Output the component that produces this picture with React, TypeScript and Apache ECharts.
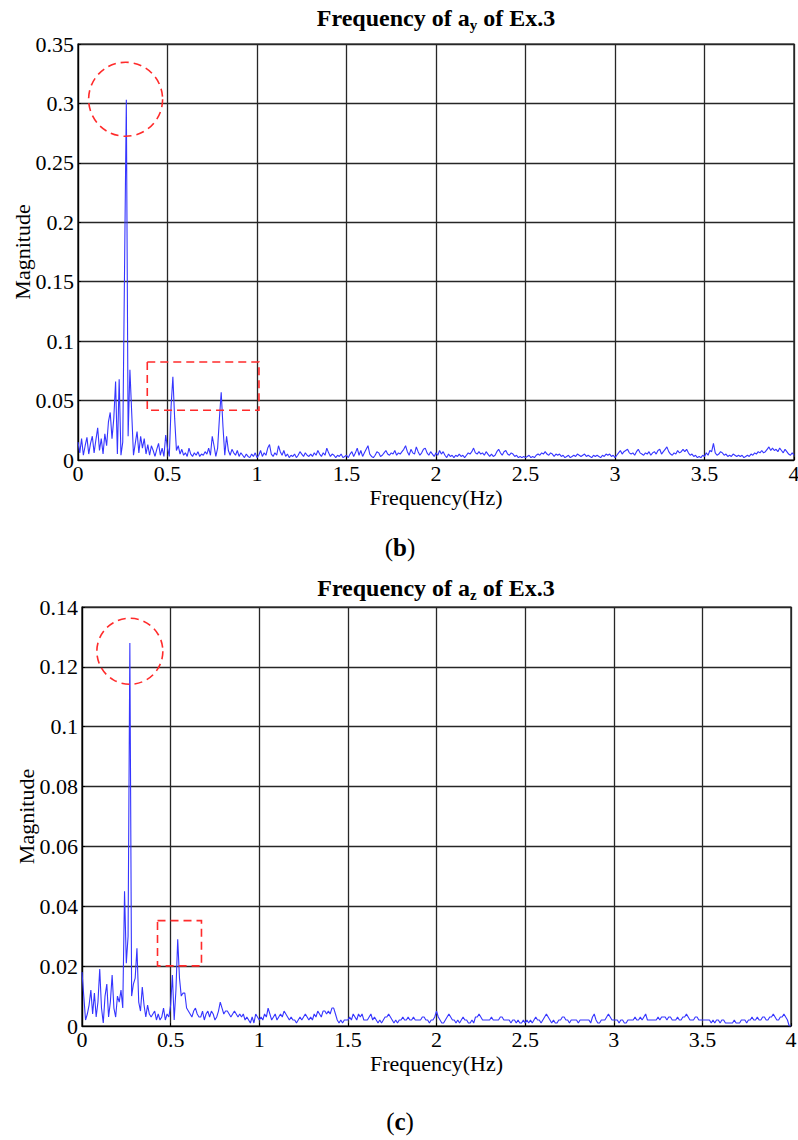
import React, { useEffect, useRef } from "react";
import * as echarts from "echarts";

// Frequency grid: 0.00 .. 4.00 Hz, step 0.01 Hz (index i -> i * 0.01 Hz)
const FREQ_STEP = 0.01;
const X_TICKS = { min: 0, max: 4, interval: 0.5 };
const Y_AXIS_AY = { min: 0, max: 0.35, interval: 0.05 };
const Y_AXIS_AZ = { min: 0, max: 0.14, interval: 0.02 };

const TITLE_AY = ["Frequency of a", "y", " of Ex.3"];
const TITLE_AZ = ["Frequency of a", "z", " of Ex.3"];
const X_NAME = "Frequency(Hz)";
const Y_NAME = "Magnitude";
const CAPTIONS = ["b", "c"];

// Magnitude of a_y spectrum (chart b)
const magAy = [
  0.015, 0.006, 0.018, 0.004, 0.012, 0.019, 0.005, 0.014, 0.020, 0.006,
  0.017, 0.027, 0.008, 0.018, 0.005, 0.022, 0.012, 0.032, 0.040, 0.018,
  0.035, 0.066, 0.005, 0.068, 0.004, 0.015, 0.160, 0.303, 0.020, 0.076,
  0.040, 0.004, 0.014, 0.024, 0.006, 0.020, 0.010, 0.018, 0.005, 0.013,
  0.004, 0.012, 0.008, 0.003, 0.009, 0.014, 0.004, 0.010, 0.003, 0.021,
  0.010, 0.003, 0.045, 0.070, 0.035, 0.008, 0.012, 0.005, 0.009, 0.004,
  0.006, 0.003, 0.010, 0.005, 0.003, 0.006, 0.004, 0.007, 0.003, 0.005,
  0.004, 0.007, 0.005, 0.010, 0.004, 0.020, 0.012, 0.003, 0.010, 0.035,
  0.057, 0.028, 0.004, 0.020, 0.008, 0.004, 0.009, 0.006, 0.004, 0.008,
  0.003, 0.006, 0.004, 0.002, 0.005, 0.003, 0.002, 0.005, 0.003, 0.006,
  0.002, 0.004, 0.008, 0.003, 0.006, 0.004, 0.010, 0.013, 0.005, 0.003,
  0.006, 0.004, 0.012, 0.007, 0.004, 0.008, 0.003, 0.005, 0.002, 0.004,
  0.003, 0.005, 0.002, 0.004, 0.007, 0.005, 0.003, 0.006, 0.004, 0.003,
  0.005, 0.003, 0.006, 0.004, 0.008, 0.005, 0.003, 0.006, 0.004, 0.010,
  0.006, 0.003, 0.005, 0.004, 0.002, 0.004, 0.003, 0.005, 0.002, 0.003,
  0.004, 0.002, 0.005, 0.007, 0.003, 0.006, 0.010, 0.004, 0.008, 0.003,
  0.006, 0.009, 0.012, 0.005, 0.003, 0.002, 0.004, 0.007, 0.006, 0.003,
  0.004, 0.006, 0.008, 0.005, 0.004, 0.006, 0.005, 0.008, 0.004, 0.006,
  0.005, 0.007, 0.009, 0.012, 0.007, 0.004, 0.009, 0.006, 0.005, 0.011,
  0.007, 0.004, 0.006, 0.009, 0.010, 0.006, 0.004, 0.007, 0.005, 0.003,
  0.006, 0.004, 0.008, 0.005, 0.007, 0.004, 0.002, 0.005, 0.003, 0.004,
  0.002, 0.004, 0.003, 0.005, 0.003, 0.004, 0.002, 0.004, 0.006, 0.005,
  0.007, 0.010, 0.006, 0.005, 0.007, 0.005, 0.006, 0.004, 0.007, 0.005,
  0.003, 0.005, 0.003, 0.004, 0.007, 0.009, 0.006, 0.004, 0.007, 0.008,
  0.005, 0.004, 0.006, 0.005, 0.003, 0.004, 0.002, 0.003, 0.002, 0.003,
  0.002, 0.003, 0.004, 0.002, 0.003, 0.002, 0.004, 0.005, 0.004, 0.006,
  0.005, 0.007, 0.005, 0.004, 0.006, 0.005, 0.003, 0.005, 0.004, 0.005,
  0.003, 0.004, 0.002, 0.003, 0.004, 0.002, 0.003, 0.004, 0.003, 0.005,
  0.004, 0.003, 0.004, 0.005, 0.003, 0.004, 0.003, 0.002, 0.004, 0.003,
  0.004, 0.003, 0.002, 0.004, 0.003, 0.005, 0.004, 0.005, 0.003, 0.004,
  0.002, 0.004, 0.006, 0.008, 0.005, 0.007, 0.008, 0.009, 0.006, 0.005,
  0.006, 0.004, 0.007, 0.009, 0.006, 0.005, 0.004, 0.006, 0.005, 0.007,
  0.004, 0.006, 0.007, 0.005, 0.008, 0.009, 0.005, 0.007, 0.009, 0.011,
  0.007, 0.005, 0.004, 0.006, 0.005, 0.008, 0.006, 0.007, 0.009, 0.007,
  0.009, 0.006, 0.004, 0.005, 0.003, 0.004, 0.002, 0.003, 0.002, 0.004,
  0.003, 0.006, 0.004, 0.008, 0.007, 0.014, 0.006, 0.004, 0.005, 0.007,
  0.006, 0.004, 0.005, 0.003, 0.004, 0.003, 0.005, 0.004, 0.003, 0.004,
  0.003, 0.004, 0.002, 0.003, 0.004, 0.003, 0.005, 0.004, 0.006, 0.005,
  0.007, 0.006, 0.008, 0.006, 0.007, 0.009, 0.011, 0.008, 0.010, 0.008,
  0.009, 0.007, 0.010, 0.008, 0.006, 0.009, 0.007, 0.005, 0.004, 0.006,
  0.004,
];

// Magnitude of a_z spectrum (chart c)
const magAz = [
  0.018, 0.010, 0.002, 0.004, 0.007, 0.012, 0.004, 0.011, 0.003, 0.008,
  0.019, 0.006, 0.001, 0.010, 0.014, 0.003, 0.008, 0.017, 0.006, 0.003,
  0.010, 0.008, 0.012, 0.006, 0.045, 0.021, 0.030, 0.128, 0.010, 0.014,
  0.016, 0.026, 0.008, 0.005, 0.013, 0.007, 0.003, 0.007, 0.004, 0.003,
  0.004, 0.005, 0.002, 0.004, 0.002, 0.003, 0.006, 0.002, 0.004, 0.003,
  0.007, 0.017, 0.002, 0.012, 0.029, 0.016, 0.010, 0.011, 0.011, 0.006,
  0.005, 0.004, 0.003, 0.005, 0.006, 0.004, 0.003, 0.003, 0.005, 0.002,
  0.004, 0.005, 0.003, 0.005, 0.004, 0.002, 0.003, 0.005, 0.008, 0.006,
  0.004, 0.005, 0.005, 0.004, 0.003, 0.004, 0.005, 0.004, 0.003, 0.004,
  0.003, 0.004, 0.002, 0.003, 0.002, 0.001, 0.003, 0.001, 0.004, 0.003,
  0.002, 0.003, 0.002, 0.004, 0.003, 0.006, 0.004, 0.002, 0.003, 0.004,
  0.002, 0.003, 0.004, 0.003, 0.005, 0.004, 0.003, 0.002, 0.003, 0.002,
  0.002, 0.001, 0.002, 0.003, 0.002, 0.003, 0.004, 0.003, 0.002, 0.003,
  0.002, 0.004, 0.003, 0.005, 0.004, 0.003, 0.005, 0.005, 0.004, 0.005,
  0.004, 0.006, 0.006, 0.004, 0.002, 0.001, 0.002, 0.001, 0.002, 0.002,
  0.002, 0.003, 0.002, 0.004, 0.003, 0.002, 0.004, 0.003, 0.004, 0.002,
  0.002, 0.002, 0.003, 0.004, 0.002, 0.003, 0.002, 0.001, 0.002, 0.001,
  0.002, 0.003, 0.003, 0.004, 0.003, 0.002, 0.001, 0.002, 0.001, 0.002,
  0.002, 0.003, 0.002, 0.002, 0.003, 0.002, 0.002, 0.003, 0.002, 0.002,
  0.002, 0.002, 0.003, 0.003, 0.002, 0.002, 0.001, 0.002, 0.002, 0.003,
  0.005, 0.003, 0.002, 0.001, 0.001, 0.002, 0.003, 0.004, 0.003, 0.002,
  0.002, 0.001, 0.002, 0.001, 0.002, 0.003, 0.002, 0.002, 0.001, 0.001,
  0.002, 0.001, 0.003, 0.003, 0.004, 0.003, 0.002, 0.002, 0.002, 0.002,
  0.002, 0.003, 0.002, 0.002, 0.002, 0.002, 0.003, 0.003, 0.002, 0.002,
  0.002, 0.002, 0.001, 0.002, 0.002, 0.001, 0.002, 0.001, 0.001, 0.002,
  0.001, 0.002, 0.001, 0.002, 0.001, 0.002, 0.003, 0.002, 0.002, 0.001,
  0.002, 0.003, 0.004, 0.003, 0.002, 0.001, 0.002, 0.001, 0.001, 0.002,
  0.002, 0.003, 0.003, 0.002, 0.002, 0.001, 0.002, 0.002, 0.002, 0.002,
  0.001, 0.002, 0.002, 0.002, 0.002, 0.002, 0.002, 0.001, 0.003, 0.004,
  0.002, 0.001, 0.001, 0.002, 0.002, 0.002, 0.003, 0.004, 0.003, 0.002,
  0.002, 0.002, 0.002, 0.001, 0.002, 0.002, 0.001, 0.001, 0.002, 0.002,
  0.002, 0.002, 0.003, 0.002, 0.002, 0.003, 0.002, 0.003, 0.004, 0.002,
  0.002, 0.002, 0.002, 0.002, 0.002, 0.003, 0.002, 0.003, 0.003, 0.003,
  0.002, 0.003, 0.003, 0.002, 0.002, 0.002, 0.003, 0.002, 0.002, 0.003,
  0.003, 0.004, 0.003, 0.002, 0.002, 0.002, 0.003, 0.003, 0.002, 0.002,
  0.002, 0.002, 0.002, 0.002, 0.002, 0.001, 0.002, 0.001, 0.002, 0.002,
  0.001, 0.002, 0.002, 0.001, 0.001, 0.001, 0.001, 0.001, 0.002, 0.001,
  0.001, 0.001, 0.002, 0.002, 0.002, 0.001, 0.002, 0.002, 0.003, 0.002,
  0.002, 0.003, 0.002, 0.002, 0.003, 0.003, 0.002, 0.002, 0.003, 0.003,
  0.004, 0.003, 0.002, 0.002, 0.003, 0.003, 0.004, 0.003, 0.002, 0.000,
  0.000,
];

// Red dashed annotations, in data coordinates
const circleAy = { center: [0.266, 0.3035] };
const rectAy = { from: [0.387, 0.0825], to: [1.011, 0.0418] };
const circleAz = { center: [0.27, 0.1252] };
const rectAz = { from: [0.426, 0.0352], to: [0.674, 0.0201] };

const FONT = "Liberation Serif, Times New Roman, serif";

function toPairs(arr: number[]) {
  return arr.map((v, i) => [Number((i * FREQ_STEP).toFixed(2)), v]);
}

const axisText = { fontFamily: FONT, fontSize: 22, lineHeight: 22, color: "#000" };

function xAxisFor(gridIndex: number) {
  return {
    type: "value",
    gridIndex,
    min: X_TICKS.min,
    max: X_TICKS.max,
    interval: X_TICKS.interval,
    name: X_NAME,
    nameLocation: "middle",
    nameGap: 26,
    nameMoveOverlap: false,
    nameTextStyle: { ...axisText },
    axisLine: { show: true, onZero: false, lineStyle: { color: "#000", width: 1.2 } },
    axisTick: { show: true, inside: true, length: 3, lineStyle: { color: "#000" } },
    axisLabel: { ...axisText, margin: 2 },
    splitLine: { show: true, lineStyle: { color: "#262626", width: 1.3 } },
  };
}

function yAxisFor(gridIndex: number, cfg: { min: number; max: number; interval: number }) {
  return {
    type: "value",
    gridIndex,
    min: cfg.min,
    max: cfg.max,
    interval: cfg.interval,
    name: Y_NAME,
    nameLocation: "middle",
    nameRotate: 90,
    nameGap: 45,
    nameMoveOverlap: false,
    nameTextStyle: { ...axisText },
    axisLine: { show: true, lineStyle: { color: "#000", width: 1.2 } },
    axisTick: { show: true, inside: true, length: 3, lineStyle: { color: "#000" } },
    axisLabel: { ...axisText, margin: 4 },
    splitLine: { show: true, lineStyle: { color: "#262626", width: 1.3 } },
  };
}

function titleText(parts: string[], x: number, y: number) {
  return {
    type: "text",
    x,
    y,
    z: 50,
    style: {
      text: `{b|${parts[0]}}{s|${parts[1]}}{b|${parts[2]}}`,
      align: "center",
      verticalAlign: "middle",
      rich: {
        b: { fontFamily: FONT, fontSize: 24, fontWeight: "bold", fill: "#000", lineHeight: 28, verticalAlign: "middle" },
        s: { fontFamily: FONT, fontSize: 15, fontWeight: "bold", fill: "#000", lineHeight: 28, verticalAlign: "bottom" },
      },
    },
  };
}

function captionText(letter: string, x: number, y: number) {
  return {
    type: "text",
    x,
    y,
    z: 50,
    style: {
      text: `{n|(}{b|${letter}}{n|)}`,
      align: "center",
      verticalAlign: "middle",
      rich: {
        n: { fontFamily: FONT, fontSize: 25, fill: "#000" },
        b: { fontFamily: FONT, fontSize: 25, fontWeight: "bold", fill: "#000" },
      },
    },
  };
}

const dashStyle = { fill: "none", stroke: "#ff2b2b", lineWidth: 1.6, lineDash: [8, 5] };

export default function App() {
  const ref = useRef<HTMLDivElement>(null);

  useEffect(() => {
    document.body.style.margin = "0";
    if (!ref.current) return;
    const chart = echarts.init(ref.current, undefined, { renderer: "svg" });

    chart.setOption({
      animation: false,
      backgroundColor: "#fff",
      textStyle: { fontFamily: FONT },
      grid: [
        { left: 78, top: 44, width: 716, height: 416, outerBoundsMode: "none", containLabel: false, show: true, borderColor: "#000", borderWidth: 1.2, backgroundColor: "transparent" },
        { left: 82, top: 607, width: 709, height: 419, outerBoundsMode: "none", containLabel: false, show: true, borderColor: "#000", borderWidth: 1.2, backgroundColor: "transparent" },
      ],
      xAxis: [xAxisFor(0), xAxisFor(1)],
      yAxis: [yAxisFor(0, Y_AXIS_AY), yAxisFor(1, Y_AXIS_AZ)],
      series: [
        {
          type: "line",
          xAxisIndex: 0,
          yAxisIndex: 0,
          data: toPairs(magAy),
          showSymbol: false,
          lineStyle: { color: "#3535ff", width: 1.1 },
          z: 10,
        },
        {
          type: "line",
          xAxisIndex: 1,
          yAxisIndex: 1,
          data: toPairs(magAz),
          showSymbol: false,
          lineStyle: { color: "#3535ff", width: 1.1 },
          z: 10,
        },
      ],
    });

    const px = (g: number, p: number[]) => chart.convertToPixel({ gridIndex: g } as any, p) as number[];
    const cA = px(0, circleAy.center);
    const rA1 = px(0, rectAy.from);
    const rA2 = px(0, rectAy.to);
    const cZ = px(1, circleAz.center);
    const rZ1 = px(1, rectAz.from);
    const rZ2 = px(1, rectAz.to);

    chart.setOption({
      graphic: [
        titleText(TITLE_AY, 436, 18),
        titleText(TITLE_AZ, 436, 588),
        captionText(CAPTIONS[0], 400, 547),
        captionText(CAPTIONS[1], 400, 1121),
        { type: "circle", z: 60, shape: { cx: cA[0], cy: cA[1], r: 37 }, style: dashStyle },
        { type: "rect", z: 60, shape: { x: rA1[0], y: rA1[1], width: rA2[0] - rA1[0], height: rA2[1] - rA1[1] }, style: dashStyle },
        { type: "circle", z: 60, shape: { cx: cZ[0], cy: cZ[1], r: 33 }, style: dashStyle },
        { type: "rect", z: 60, shape: { x: rZ1[0], y: rZ1[1], width: rZ2[0] - rZ1[0], height: rZ2[1] - rZ1[1] }, style: dashStyle },
      ],
    });

    return () => chart.dispose();
  }, []);

  return <div ref={ref} style={{ width: 798, height: 1140 }} />;
}
